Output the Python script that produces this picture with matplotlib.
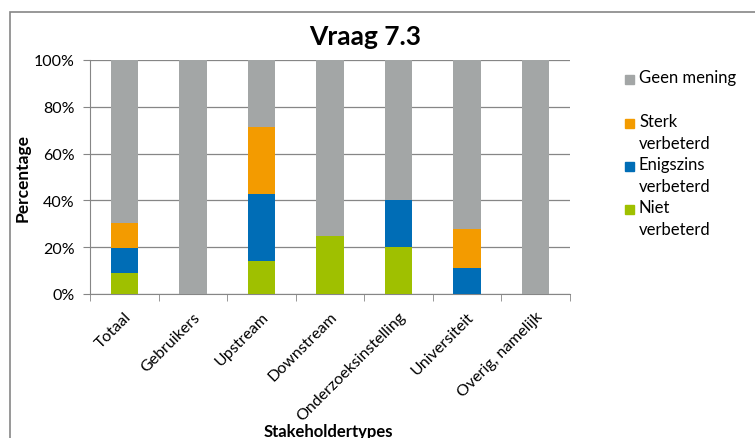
import numpy as np
import matplotlib
matplotlib.use("Agg")
import matplotlib.pyplot as plt
from matplotlib.patches import Rectangle

plt.rcParams["font.family"] = ["Lato", "DejaVu Sans"]

CATEGORIES = [
    "Totaal",
    "Gebruikers",
    "Upstream",
    "Downstream",
    "Onderzoeksinstelling",
    "Universiteit",
    "Overig, namelijk",
]

# shares per stakeholder type (fractions)
niet = [0.09, 0.0, 0.143, 0.25, 0.20, 0.0, 0.0]
enigszins = [0.107, 0.0, 0.286, 0.0, 0.20, 0.111, 0.0]
sterk = [0.108, 0.0, 0.286, 0.0, 0.0, 0.167, 0.0]
geen = [0.695, 1.0, 0.285, 0.75, 0.60, 0.722, 1.0]

SERIES = [
    ("Niet\nverbeterd", niet, "#9FC000"),
    ("Enigszins\nverbeterd", enigszins, "#006DB6"),
    ("Sterk\nverbeterd", sterk, "#F39B00"),
    ("Geen mening", geen, "#A3A6A6"),
]

W, H = 755, 439
fig = plt.figure(figsize=(W / 100, H / 100), dpi=100)

# chart-area frame (continues past right/bottom edge)
fig.patches.append(Rectangle((10 / W, -0.1), 1.2, 1 - 13 / H + 0.1,
                             transform=fig.transFigure, fill=False,
                             edgecolor="#868686", linewidth=1.2))

ax = fig.add_axes([90 / W, 1 - 295 / H, 480 / W, 234 / H])
x = np.arange(len(CATEGORIES))
bottom = np.zeros(len(CATEGORIES))
for label, vals, color in SERIES:
    ax.bar(x, vals, bottom=bottom, width=0.4, color=color, zorder=3)
    bottom += np.array(vals)

ax.set_xlim(-0.5, len(CATEGORIES) - 0.5)
ax.set_ylim(0, 1)
ax.set_yticks(np.linspace(0, 1, 6))
ax.set_yticklabels([f"{int(v * 100)}%" for v in np.linspace(0, 1, 6)], fontsize=11.5)
ax.yaxis.grid(True, color="#868686", linewidth=0.9, zorder=0)
ax.set_xticks(x)
ax.set_xticklabels(CATEGORIES, rotation=45, ha="right", rotation_mode="anchor", fontsize=11.5)
ax.set_xticks(np.arange(len(CATEGORIES) + 1) - 0.5, minor=True)
ax.tick_params(axis="x", which="major", length=0, pad=11)
ax.tick_params(axis="x", which="minor", length=5, color="#868686")
ax.tick_params(axis="y", length=5, color="#868686", pad=6)
for s in ["top", "right"]:
    ax.spines[s].set_visible(False)
for s in ["left", "bottom"]:
    ax.spines[s].set_color("#868686")

fig.text(365 / W, 1 - 37 / H, "Vraag 7.3", ha="center", va="center",
         fontsize=19, fontweight="bold")
fig.text(23 / W, 1 - 178 / H, "Percentage", rotation=90, ha="center", va="center",
         fontsize=12.5, fontweight="bold")
fig.text(328 / W, 1 - 432 / H, "Stakeholdertypes", ha="center", va="center",
         fontsize=12, fontweight="bold")

# legend, drawn like the Excel one
legend_rows = [(SERIES[3], 80), (SERIES[2], 124), (SERIES[1], 167), (SERIES[0], 210)]
for (label, vals, color), ty in legend_rows:
    fig.patches.append(Rectangle((625 / W, 1 - (ty + 4.5) / H), 9 / W, 9 / H,
                                 transform=fig.transFigure, color=color))
    fig.text(639 / W, 1 - (ty - 10) / H, label, ha="left", va="top",
             fontsize=12, linespacing=1.45)

fig.savefig("out.png", dpi=100)
